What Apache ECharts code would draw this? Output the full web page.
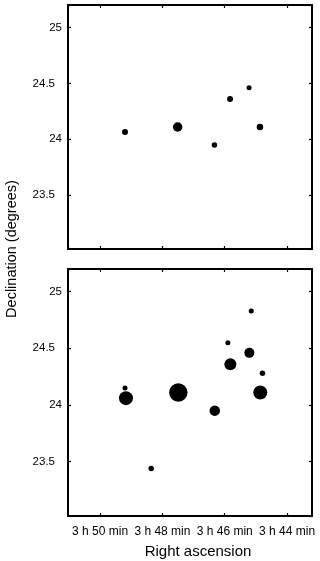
<!DOCTYPE html>
<html>
<head>
<meta charset="utf-8">
<script src="https://cdn.jsdelivr.net/npm/echarts@6/dist/echarts.min.js"></script>
<style>html,body{margin:0;padding:0;background:#fff}#c{width:320px;height:561px}</style>
</head>
<body>
<div id="c"></div>
<script>
// Right ascension in minutes past 3 h, declination in degrees, relative mark size
const raTop = [49.20, 47.51, 46.33, 45.83, 45.22, 44.87];
const decTop = [24.065, 24.11, 23.95, 24.36, 24.46, 24.11];
const sizeTop = [6, 9.5, 5.5, 6, 5, 6.5];

const raBottom = [49.20, 49.17, 47.49, 46.32, 45.82, 45.90, 45.21, 45.15, 44.79, 44.86, 48.36];
const decBottom = [24.15, 24.06, 24.11, 23.95, 24.36, 24.55, 24.46, 24.83, 24.28, 24.11, 23.44];
const sizeBottom = [5, 14, 18.5, 10.5, 12, 5, 10, 5, 5.5, 14, 5.5];

const raTicks = [50, 48, 46, 44];
const decTicks = [23.5, 24, 24.5, 25];

const RA_MIN = 43.2, RA_MAX = 51.03, DEC_MIN = 23.02, DEC_MAX = 25.2;
const FONT = 'Liberation Sans, Arial, Helvetica, sans-serif';

function near(list, v) { return list.some(t => Math.abs(t - v) < 1e-6); }

function xAx(grid, pos, labels) {
  return {
    type: 'value', gridIndex: grid, position: pos, inverse: true,
    min: RA_MIN, max: RA_MAX, splitNumber: 4,
    axisLine: { show: true, lineStyle: { color: '#000', width: 2 } },
    axisTick: { show: true, inside: true, length: 3, lineStyle: { color: '#000', width: 1.2 } },
    splitLine: { show: false },
    axisLabel: labels ? {
      show: true, margin: 10, color: '#000', fontSize: 12, fontFamily: FONT,
      showMinLabel: false, showMaxLabel: false,
      formatter: v => near(raTicks, v) ? '3 h ' + v + ' min' : ''
    } : { show: false }
  };
}
function yAx(grid, pos, labels) {
  return {
    type: 'value', gridIndex: grid, position: pos,
    min: DEC_MIN, max: DEC_MAX, splitNumber: 4,
    axisLine: { show: true, lineStyle: { color: '#000', width: 2 } },
    axisTick: { show: true, inside: true, length: 3, lineStyle: { color: '#000', width: 1.2 } },
    splitLine: { show: false },
    axisLabel: labels ? {
      show: true, margin: 6, color: '#000', fontSize: 11.5, fontFamily: FONT,
      showMinLabel: false, showMaxLabel: false,
      formatter: v => {
        if (!near(decTicks, v)) return '';
        return Number.isInteger(v) ? String(v) : '{d|' + v + '}';
      },
      rich: { d: { fontSize: 11.5, fontFamily: FONT, color: '#000', padding: [0, 7, 0, 0] } }
    } : { show: false }
  };
}

const chart = echarts.init(document.getElementById('c'), null, { renderer: 'canvas' });
const bottomX = xAx(1, 'bottom', true);
bottomX.name = 'Right ascension';
bottomX.nameLocation = 'middle';
bottomX.nameGap = 28;
bottomX.nameTextStyle = { fontSize: 15, fontFamily: FONT, color: '#000', padding: [0, 0, 0, 16] };

chart.setOption({
  animation: false,
  backgroundColor: '#fff',
  grid: [
    { left: 68, right: 8, top: 5, height: 244 },
    { left: 68, right: 8, top: 269, height: 247 }
  ],
  xAxis: [xAx(0, 'bottom', false), xAx(0, 'top', false), bottomX, xAx(1, 'top', false)],
  yAxis: [yAx(0, 'left', true), yAx(0, 'right', false), yAx(1, 'left', true), yAx(1, 'right', false)],
  graphic: [{
    type: 'text', x: 12, y: 249, rotation: Math.PI / 2,
    style: { text: 'Declination (degrees)', fontSize: 14.5, fontFamily: FONT, fill: '#000', textAlign: 'center', textVerticalAlign: 'middle' }
  }],
  series: [
    {
      type: 'scatter', xAxisIndex: 0, yAxisIndex: 0,
      data: raTop.map((r, i) => [r, decTop[i], sizeTop[i]]),
      symbolSize: v => v[2], itemStyle: { color: '#000', opacity: 1 }
    },
    {
      type: 'scatter', xAxisIndex: 2, yAxisIndex: 2,
      data: raBottom.map((r, i) => [r, decBottom[i], sizeBottom[i]]),
      symbolSize: v => v[2], itemStyle: { color: '#000', opacity: 1 }
    }
  ]
});
</script>
</body>
</html>
